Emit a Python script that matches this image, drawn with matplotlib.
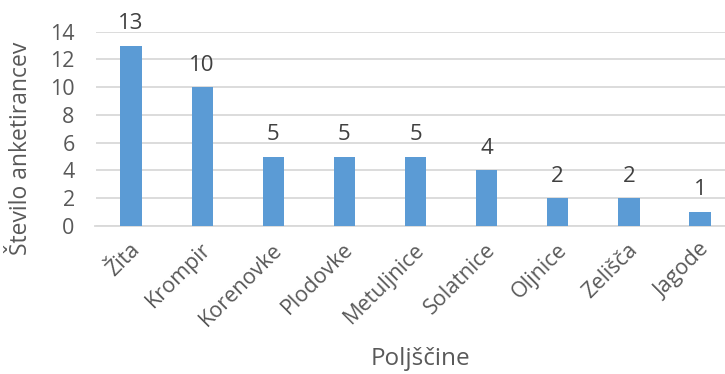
import matplotlib
matplotlib.use('Agg')
import matplotlib.pyplot as plt
import matplotlib.transforms as mtransforms

# Survey results: number of respondents per crop group
crops = ['Žita', 'Krompir', 'Korenovke', 'Plodovke', 'Metuljnice',
         'Solatnice', 'Oljnice', 'Zelišča', 'Jagode']
respondents = [13, 10, 5, 5, 5, 4, 2, 2, 1]
y_ticks = [0, 2, 4, 6, 8, 10, 12, 14]

plt.rcParams['font.family'] = ['Open Sans', 'DejaVu Sans']

fig = plt.figure(figsize=(7.25, 3.74), dpi=100)
# plot area runs a little past the right edge of the canvas
ax = fig.add_axes([95.5 / 725, 1 - 226 / 374, 640 / 725, 194.3 / 374])

x = list(range(len(crops)))
bars = ax.bar(x, respondents, width=0.3, color='#5B9BD5', zorder=3)

for rect, val in zip(bars, respondents):
    ax.annotate(str(val), (rect.get_x() + rect.get_width() / 2, val),
                xytext=(0, 12), textcoords='offset points',
                ha='center', va='baseline', fontsize=16, color='#404040')

ax.set_xlim(-0.5, len(crops) - 0.5)
ax.set_ylim(0, 14)
ax.set_yticks(y_ticks)
ax.yaxis.grid(True, color='#D9D9D9', linewidth=1.3, zorder=0)
ax.set_axisbelow(True)

for side in ['top', 'right', 'left']:
    ax.spines[side].set_visible(False)
ax.spines['bottom'].set_color('#D9D9D9')
ax.spines['bottom'].set_linewidth(1.3)

ax.tick_params(axis='both', length=0, labelsize=15.5, labelcolor='#595959')
ax.tick_params(axis='y', pad=15)
ax.set_xticks(x)
ax.set_xticklabels(crops, rotation=45, ha='right', rotation_mode='anchor')
shift = mtransforms.ScaledTranslation(-1 / 72, -6 / 72, fig.dpi_scale_trans)
for lbl in ax.get_xticklabels():
    lbl.set_transform(lbl.get_transform() + shift)

# axis titles
fig.text(21 / 725, 1 - 148 / 374, 'Število anketirancev', fontsize=16.5,
         color='#595959', rotation=90, ha='center', va='center')
fig.text(420 / 725, 1 - 359 / 374, 'Poljščine', fontsize=17.5, color='#595959',
         ha='center', va='center')

fig.savefig('out.png', dpi=100)
